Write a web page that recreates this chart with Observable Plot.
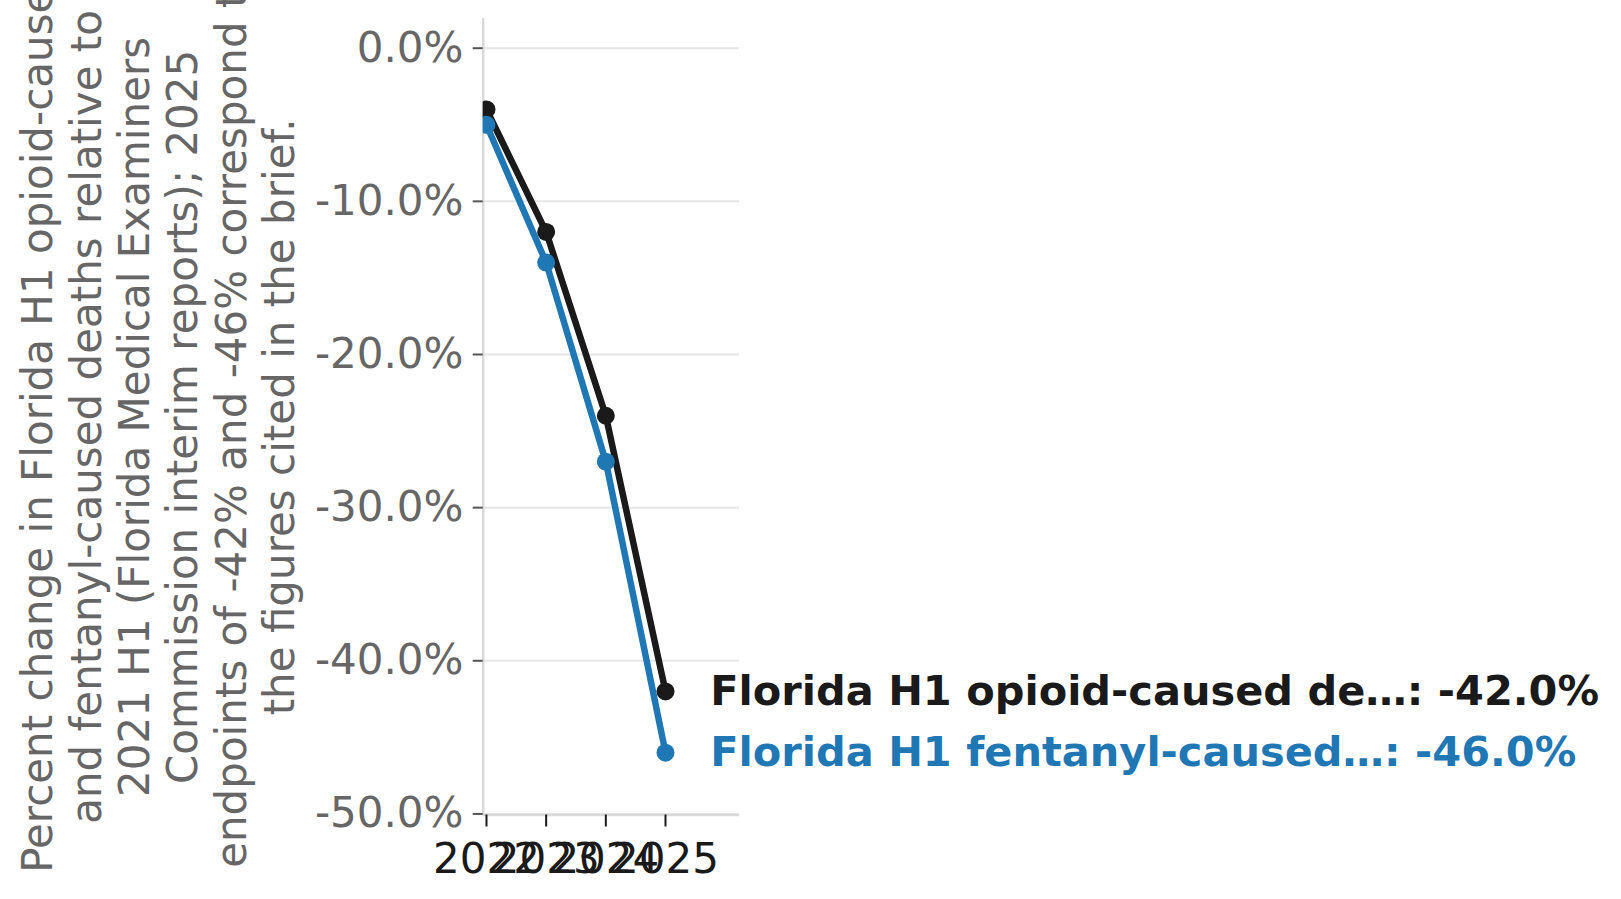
<!DOCTYPE html>
<html>
<head>
<meta charset="utf-8">
<script src="https://cdn.jsdelivr.net/npm/d3@7"></script>
<script src="https://cdn.jsdelivr.net/npm/@observablehq/plot@0.6"></script>
<style>
  html, body { margin: 0; padding: 0; background: #ffffff; }
  #chart svg { display: block; font-family: "DejaVu Sans", sans-serif; }
</style>
</head>
<body>
<div id="chart"></div>
<script>
// ---- data ----
const years = [2022, 2023, 2024, 2025];
const seriesNames = ["Florida H1 opioid-caused de\u2026", "Florida H1 fentanyl-caused\u2026"];
const seriesColors = ["#1a1a1a", "#1f77b4"];
const opioidPct = [-4, -12, -24, -42];
const fentanylPct = [-5, -14, -27, -46];
const yTicks = [0, -10, -20, -30, -40, -50];
const xDomain = [2021.945, 2026.24];
const yDomain = [-50.07, 1.92];
const yLabelLines = [
  "Percent change in Florida H1 opioid-caused",
  "and fentanyl-caused deaths relative to",
  "2021 H1 (Florida Medical Examiners",
  "Commission interim reports); 2025",
  "endpoints of -42% and -46% correspond to",
  "the figures cited in the brief."
];

// ---- build table ----
const seriesValues = [opioidPct, fentanylPct];
const rows = [];
seriesNames.forEach((name, s) => {
  years.forEach((yr, i) => rows.push({series: name, year: yr, value: seriesValues[s][i], color: seriesColors[s]}));
});
const lastRows = seriesNames.map((name, s) => ({
  series: name,
  year: years[years.length - 1],
  value: seriesValues[s][years.length - 1],
  color: seriesColors[s],
  label: `${name}: ${seriesValues[s][years.length - 1].toFixed(1)}%`
}));

const W = 1621, H = 899;
const chart = Plot.plot({
  width: W,
  height: H,
  marginLeft: 482.7,
  marginRight: W - 739,
  marginTop: 18.3,
  marginBottom: H - 814.5,
  style: {fontFamily: "DejaVu Sans, sans-serif", background: "#ffffff", overflow: "visible"},
  x: {domain: xDomain, axis: null},
  y: {domain: yDomain, axis: null},
  marks: [
    Plot.gridY(yTicks, {stroke: "#e6e6e6", strokeOpacity: 1, strokeWidth: 2}),
    Plot.ruleX([xDomain[0]], {stroke: "#d9d9d9", strokeWidth: 2.5}),
    Plot.ruleY([yDomain[0]], {stroke: "#d9d9d9", strokeWidth: 2.5}),
    Plot.axisY({
      ticks: yTicks,
      tickFormat: d => d.toFixed(1) + "%",
      tickSize: 10,
      tickPadding: 9.7,
      fontSize: 42,
      fill: "#666666",
      stroke: "#555555",
      strokeWidth: 2,
      label: null
    }),
    Plot.axisX({
      ticks: years,
      tickFormat: d => String(d),
      tickSize: 12,
      tickPadding: 16,
      fontSize: 42,
      fill: "#1a1a1a",
      stroke: "#1a1a1a",
      strokeWidth: 2,
      label: null
    }),
    Plot.line(rows, {x: "year", y: "value", z: "series", stroke: "color", strokeWidth: 6.5, clip: "frame"}),
    Plot.dot(rows, {x: "year", y: "value", fill: "color", r: 9, clip: "frame"}),
    Plot.text(lastRows, {
      x: "year", y: "value", text: "label", fill: "color",
      fontSize: 41.5, fontWeight: "bold", textAnchor: "start", dx: 44.7
    }),
    Plot.text([yLabelLines.join("\n")], {
      frameAnchor: "left",
      text: d => d,
      rotate: -90,
      dx: -325.5,
      lineAnchor: "middle",
      lineHeight: 1.15,
      textAnchor: "middle",
      fontSize: 42,
      fill: "#666666"
    })
  ]
});
document.getElementById("chart").appendChild(chart);
</script>
</body>
</html>
